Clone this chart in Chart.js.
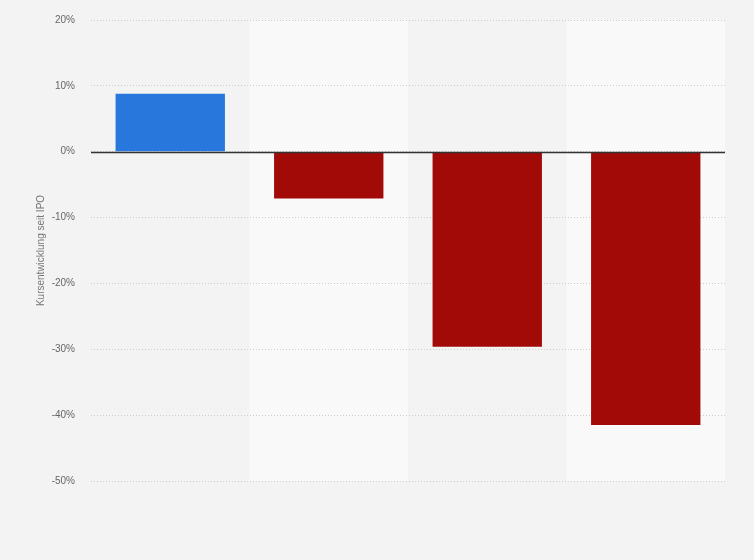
<!DOCTYPE html>
<html>
<head>
<meta charset="utf-8">
<script src="https://cdn.jsdelivr.net/npm/chart.js@4.4.1/dist/chart.umd.min.js"></script>
<style>
  html, body { margin: 0; padding: 0; background: #f3f3f3; }
  canvas { display: block; }
</style>
</head>
<body>
<canvas id="myChart" width="754" height="560"></canvas>
<script>
// values, in percent
const categories = ["A", "B", "C", "D"];
const values = [8.8, -7.1, -29.6, -41.5];
const barColors = ["#2777dc", "#a20a07", "#a20a07", "#a20a07"];
const yTicks = [20, 10, 0, -10, -20, -30, -40, -50];

// lighter band behind every second column + solid zero line
const bandsPlugin = {
  id: "bands",
  beforeDraw(chart) {
    const { ctx, chartArea, scales } = chart;
    const x = scales.x;
    ctx.save();
    ctx.fillStyle = "#f9f9f9";
    categories.forEach((c, i) => {
      if (i % 2 === 1) {
        const half = (x.getPixelForValue(1) - x.getPixelForValue(0)) / 2;
        const cx = x.getPixelForValue(i);
        ctx.fillRect(cx - half, chartArea.top, half * 2, chartArea.bottom - chartArea.top);
      }
    });
    ctx.restore();
  },
  afterDatasetsDraw(chart) {
    const { ctx, chartArea, scales } = chart;
    const y0 = Math.round(scales.y.getPixelForValue(0)) + 0.5;
    ctx.save();
    ctx.strokeStyle = "#333333";
    ctx.lineWidth = 1.5;
    ctx.beginPath();
    ctx.moveTo(chartArea.left, y0);
    ctx.lineTo(chartArea.right, y0);
    ctx.stroke();
    ctx.restore();
  }
};

const ctx = document.getElementById("myChart").getContext("2d");
const myChart = new Chart(ctx, {
  type: "bar",
  data: {
    labels: categories,
    datasets: [{
      data: values,
      backgroundColor: barColors,
      borderWidth: 0,
      categoryPercentage: 1,
      barPercentage: 0.69
    }]
  },
  options: {
    responsive: false,
    animation: false,
    devicePixelRatio: 1,
    layout: { padding: { top: 20, right: 29, bottom: 79, left: 0 } },
    plugins: {
      legend: { display: false },
      tooltip: { enabled: false }
    },
    scales: {
      x: {
        display: false
      },
      y: {
        min: -50,
        max: 20,
        afterFit(scale) {
          scale.width = 91;
          scale.paddingTop = 0;
          scale.paddingBottom = 0;
        },
        afterBuildTicks(scale) { scale.ticks = yTicks.map(v => ({ value: v })); },
        ticks: {
          padding: 16,
          color: "#666666",
          font: { family: "Liberation Sans", size: 10 },
          callback: v => v + "%"
        },
        grid: {
          drawTicks: false,
          color: "#cccccc",
          lineWidth: 1
        },
        border: { display: false, dash: [1, 2] },
        title: {
          display: true,
          text: "Kursentwicklung seit IPO",
          color: "#777777",
          font: { family: "Liberation Sans", size: 10 },
          padding: { top: 35, bottom: 0 }
        }
      }
    }
  },
  plugins: [bandsPlugin]
});
</script>
</body>
</html>
